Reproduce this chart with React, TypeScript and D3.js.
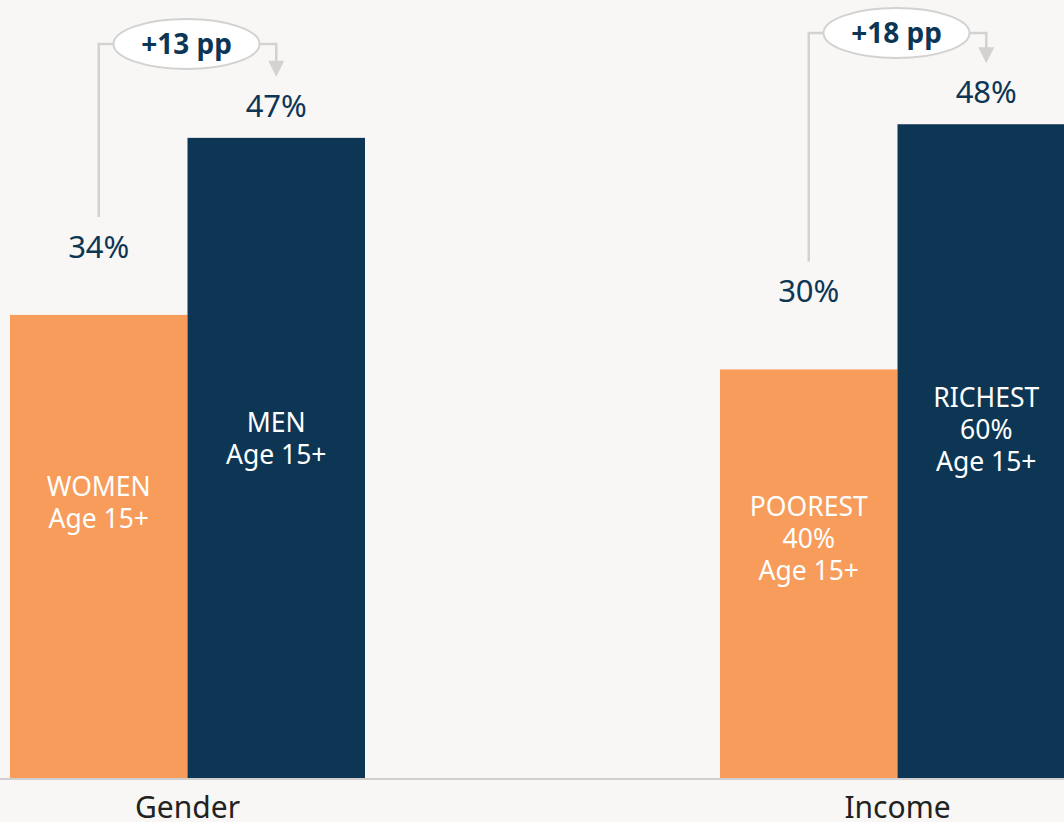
import React, { useEffect, useRef } from 'react';
import * as d3 from 'd3';

// data
const groups = ['Gender', 'Income'];
const barLabels = [
  [['WOMEN', 'Age 15+'], ['MEN', 'Age 15+']],
  [['POOREST', '40%', 'Age 15+'], ['RICHEST', '60%', 'Age 15+']],
];
const values = [
  [34, 47],
  [30, 48],
];
const gaps = ['+13 pp', '+18 pp'];

// layout bits (not data)
const labelDy = [
  [181, 294],
  [147, 283],
];
const lowLabelDy = [57, 67];
const bracketTop = [44, 33];

const W = 1064,
  H = 822;
const baseY = 778;
const colors = ['#f79c5b', '#0d3655'];
const navy = '#0d3655';
const grey = '#d3d2d0';
const font = "'Noto Sans', 'Open Sans', sans-serif";

const App = () => {
  const ref = useRef<SVGSVGElement>(null);

  useEffect(() => {
    const svg = d3.select(ref.current);
    svg.selectAll('*').remove();

    svg.append('rect').attr('width', W).attr('height', H).attr('fill', '#f8f7f5');

    const x = d3.scaleBand().domain(groups).range([10, 1075]).paddingInner(0.5).paddingOuter(0);
    const xi = d3.scaleBand<number>().domain([0, 1]).range([0, x.bandwidth()]);
    const y = d3.scaleLinear().domain([0, 100]).range([baseY, baseY - 1362]);

    groups.forEach((g, gi) => {
      const gx = x(g)!;
      const gEl = svg.append('g');

      gEl
        .selectAll('rect.bar')
        .data(values[gi])
        .enter()
        .append('rect')
        .attr('class', 'bar')
        .attr('x', (_, i) => gx + xi(i)!)
        .attr('y', (d) => y(d))
        .attr('width', xi.bandwidth())
        .attr('height', (d) => baseY - y(d))
        .attr('fill', (_, i) => colors[i]);

      // labels inside bars
      values[gi].forEach((v, i) => {
        const cx = gx + xi(i)! + xi.bandwidth() / 2;
        const t = gEl
          .append('text')
          .attr('x', cx)
          .attr('y', y(v) + labelDy[gi][i])
          .attr('text-anchor', 'middle')
          .attr('fill', '#ffffff')
          .attr('font-family', font)
          .attr('font-size', 26.5);
        barLabels[gi][i].forEach((line, li) => {
          t.append('tspan').attr('x', cx).attr('dy', li === 0 ? 0 : 32).text(line);
        });
      });

      // value labels
      const lowX = gx + xi(0)! + xi.bandwidth() / 2;
      const highX = gx + xi(1)! + xi.bandwidth() / 2;
      const lowY = y(values[gi][0]) - lowLabelDy[gi];
      const highY = y(values[gi][1]) - 21;
      [
        [lowX, lowY, values[gi][0]],
        [highX, highY, values[gi][1]],
      ].forEach(([px, py, v]) => {
        gEl
          .append('text')
          .attr('x', px)
          .attr('y', py)
          .attr('text-anchor', 'middle')
          .attr('fill', navy)
          .attr('font-family', font)
          .attr('font-size', 31)
          .text(`${v}%`);
      });

      // bracket
      const top = bracketTop[gi];
      const cx = gx + x.bandwidth() / 2 - 1;
      const rx = 73,
        ry = 25;
      gEl
        .append('path')
        .attr('d', `M${lowX},${lowY - 41} V${top} H${cx - rx}`)
        .attr('fill', 'none')
        .attr('stroke', grey)
        .attr('stroke-width', 2.5);
      gEl
        .append('path')
        .attr('d', `M${cx + rx},${top} H${highX} V${highY - 55}`)
        .attr('fill', 'none')
        .attr('stroke', grey)
        .attr('stroke-width', 2.5);
      gEl
        .append('path')
        .attr('d', `M${highX - 8},${highY - 56} L${highX + 8},${highY - 56} L${highX},${highY - 40} Z`)
        .attr('fill', grey);
      gEl
        .append('ellipse')
        .attr('cx', cx)
        .attr('cy', top)
        .attr('rx', rx)
        .attr('ry', ry)
        .attr('fill', '#ffffff')
        .attr('stroke', grey)
        .attr('stroke-width', 2);
      gEl
        .append('text')
        .attr('x', cx)
        .attr('y', top + 9.5)
        .attr('text-anchor', 'middle')
        .attr('fill', navy)
        .attr('font-family', font)
        .attr('font-weight', 700)
        .attr('font-size', 28)
        .text(gaps[gi]);

      // category label
      svg
        .append('text')
        .attr('x', gx + x.bandwidth() / 2)
        .attr('y', 818)
        .attr('text-anchor', 'middle')
        .attr('fill', '#222222')
        .attr('font-family', font)
        .attr('font-size', 30)
        .text(g);
    });

    // baseline
    svg
      .append('line')
      .attr('x1', 0)
      .attr('x2', W)
      .attr('y1', baseY + 1)
      .attr('y2', baseY + 1)
      .attr('stroke', '#d0cfcd')
      .attr('stroke-width', 2);
  }, []);

  return (
    <svg
      ref={ref}
      width={W}
      height={H}
      style={{ position: 'absolute', left: 0, top: 0, display: 'block' }}
    />
  );
};

export default App;
